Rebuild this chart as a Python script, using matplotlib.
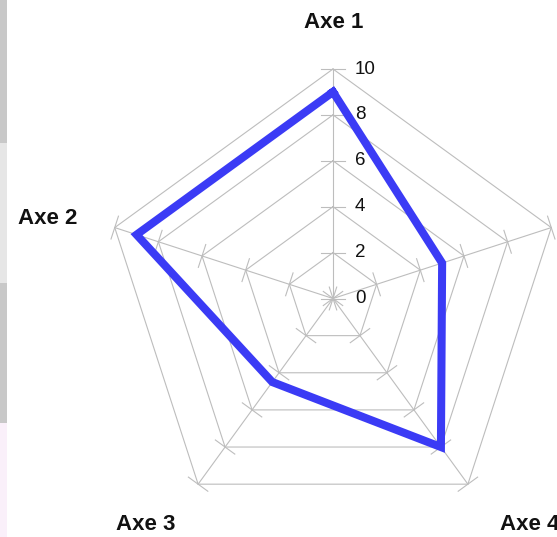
import numpy as np
import matplotlib
matplotlib.use("Agg")
import matplotlib.pyplot as plt
from matplotlib.patches import Rectangle

# Radar data
categories = ["Axe 1", "Axe 2", "Axe 3", "Axe 4", "Axe 5"]
values = [9, 9, 4.5, 8, 5]
tick_values = [0, 2, 4, 6, 8, 10]
tick_labels = ["0", "2", "4", "6", "8", "10"]
r_max = 10

W, H = 557, 537
fig = plt.figure(figsize=(W / 100, H / 100), dpi=100)
ax = fig.add_axes([0, 0, 1, 1])
ax.set_xlim(0, W)
ax.set_ylim(H, 0)
ax.axis("off")

# thin coloured strip at the left border
strip = [(0, 143, "#c8c8c8"), (143, 283, "#e6e6e6"),
         (283, 423, "#c8c8c8"), (423, 537, "#faf0fa")]
for y0, y1, c in strip:
    ax.add_patch(Rectangle((0, y0), 7, y1 - y0, color=c, lw=0, zorder=0))

cx, cy = 333.0, 298.5
R = 229.5  # pixel radius of the outer ring
n = len(categories)
angles = np.deg2rad(90 + 360 / n * np.arange(n))


def to_xy(val, ang):
    r = val / r_max * R
    return cx + r * np.cos(ang), cy - r * np.sin(ang)


grid_col = "#bdbdbd"
grid_lw = 0.8

# concentric pentagons
for tv in tick_values[1:]:
    pts = [to_xy(tv, a) for a in angles] + [to_xy(tv, angles[0])]
    xs, ys = zip(*pts)
    ax.plot(xs, ys, color=grid_col, lw=grid_lw, zorder=1)

# spokes with perpendicular tick marks
tick_half = 12
for a in angles:
    x1, y1 = to_xy(r_max, a)
    ax.plot([cx, x1], [cy, y1], color=grid_col, lw=grid_lw, zorder=1)
    px, py = -np.sin(a), -np.cos(a)  # perpendicular direction in pixel space
    for tv in tick_values:
        tx, ty = to_xy(tv, a)
        ax.plot([tx - px * tick_half, tx + px * tick_half],
                [ty - py * tick_half, ty + py * tick_half],
                color=grid_col, lw=grid_lw, zorder=1)

# value labels along the first spoke
for tv, tl in zip(tick_values, tick_labels):
    tx, ty = to_xy(tv, angles[0])
    ax.text(tx + 22, ty, tl, ha="left", va="center", fontsize=13.5,
            family="Liberation Sans", color="#111111", zorder=3)

# category labels (the fifth one falls beyond the right edge)
label_pos = {
    "Axe 1": (334, 22.5),
    "Axe 2": (48, 218),
    "Axe 3": (146, 525),
    "Axe 4": (530, 525),
}
for cat in categories:
    if cat not in label_pos:
        continue
    x, y = label_pos[cat]
    ax.text(x, y, cat, ha="center", va="center", fontsize=16,
            fontweight="bold", family="Liberation Sans", color="#111111", zorder=3)

# data polygon
pts = [to_xy(v, a) for v, a in zip(values, angles)]
pts.append(pts[0])
xs, ys = zip(*pts)
ax.plot(xs, ys, color="#3b3bf5", lw=5.8, solid_joinstyle="miter", zorder=2)

fig.savefig("out.png", dpi=100)
